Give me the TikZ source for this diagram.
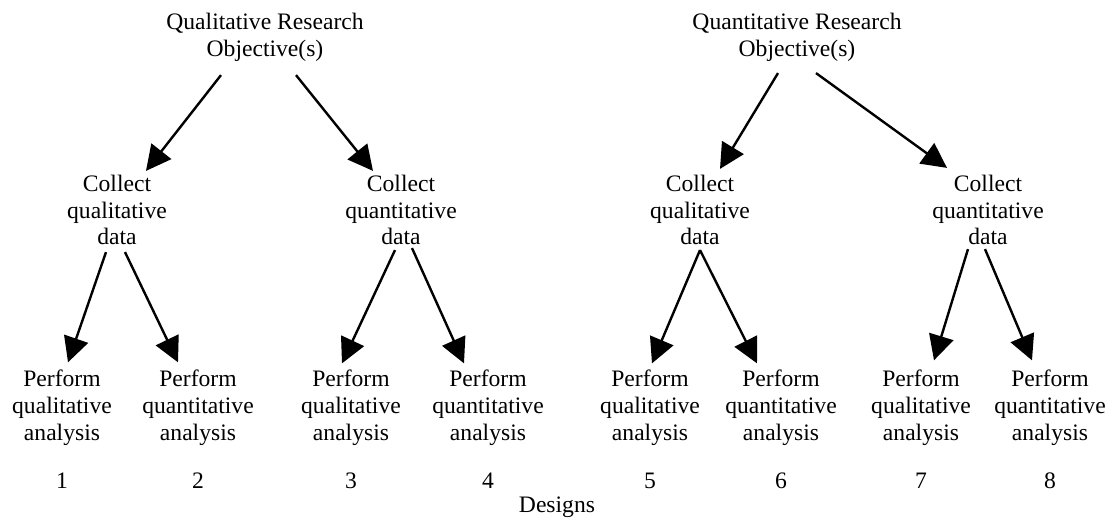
\documentclass[tikz,border=0pt]{standalone}
\usepackage{fontspec}
\setmainfont{Liberation Serif}
\usetikzlibrary{arrows.meta,positioning}

\begin{document}
\begin{tikzpicture}[x=0.5pt,y=-0.5pt,on grid,node distance=36.5pt,
   txt/.style={align=center,inner sep=0pt,outer sep=0pt,font=\fontsize{11.8}{13.4}\selectfont},
   arr/.style={-{Triangle[length=12.5pt,width=12.5pt]},line width=1.2pt}]
   \useasboundingbox (0,0) rectangle (1115,519);
   % objectives
   \node[txt] (qlobj) at (265,37) {Qualitative Research\\Objective(s)};
   \node[txt] (qnobj) at (797,37) {Quantitative Research\\Objective(s)};
   % collect
   \node[txt] (qlcolql) at (117,210) {Collect\\qualitative\\data};
   \node[txt] (qlcolqn) at (401,210) {Collect\\quantitative\\data};
   \node[txt] (qncolql) at (700,210) {Collect\\qualitative\\data};
   \node[txt] (qncolqn) at (988,210) {Collect\\quantitative\\data};
   % perform
   \node[txt] (p1) at (62,408)   {Perform\\qualitative\\analysis};
   \node[txt] (p2) at (198,408)  {Perform\\quantitative\\analysis};
   \node[txt] (p3) at (351,408)  {Perform\\qualitative\\analysis};
   \node[txt] (p4) at (488,408)  {Perform\\quantitative\\analysis};
   \node[txt] (p5) at (650,408)  {Perform\\qualitative\\analysis};
   \node[txt] (p6) at (781,408)  {Perform\\quantitative\\analysis};
   \node[txt] (p7) at (921,408)  {Perform\\qualitative\\analysis};
   \node[txt] (p8) at (1050,408) {Perform\\quantitative\\analysis};
   % design numbers
   \node[txt] (d1) [below=of p1] {1};
   \node[txt] (d2) [below=of p2] {2};
   \node[txt] (d3) [below=of p3] {3};
   \node[txt] (d4) [below=of p4] {4};
   \node[txt] (d5) [below=of p5] {5};
   \node[txt] (d6) [below=of p6] {6};
   \node[txt] (d7) [below=of p7] {7};
   \node[txt] (d8) [below=of p8] {8};
   \node[txt] (designs) at (557,507) {Designs};

   \path[arr]
    ([shift={(-44,14)}]qlobj.south) edge ([shift={(29,-4)}]qlcolql.north)
    ([shift={(31,14)}]qlobj.south)  edge ([shift={(-28,-4)}]qlcolqn.north)
    ([shift={(-19,12)}]qnobj.south) edge ([shift={(20,-6)}]qncolql.north)
    ([shift={(19,12)}]qnobj.south)  edge ([shift={(-41,-7)}]qncolqn.north);
   \path[arr]
    ([shift={(-11,7)}]qlcolql.south) edge ([shift={(6,-8)}]p1.north)
    ([shift={(8,7)}]qlcolql.south)   edge ([shift={(-20,-8)}]p2.north)
    ([shift={(-6,5)}]qlcolqn.south)  edge ([shift={(-9,-7)}]p3.north)
    ([shift={(11,3)}]qlcolqn.south)  edge ([shift={(-24,-7)}]p4.north)
    ([shift={(0,5)}]qncolql.south)   edge ([shift={(2,-7)}]p5.north)
    ([shift={(0,5)}]qncolql.south)   edge ([shift={(-24,-7)}]p6.north)
    ([shift={(-20,4)}]qncolqn.south) edge ([shift={(13,-10)}]p7.north)
    ([shift={(-3,4)}]qncolqn.south)  edge ([shift={(-18,-10)}]p8.north);
\end{tikzpicture}
\end{document}
